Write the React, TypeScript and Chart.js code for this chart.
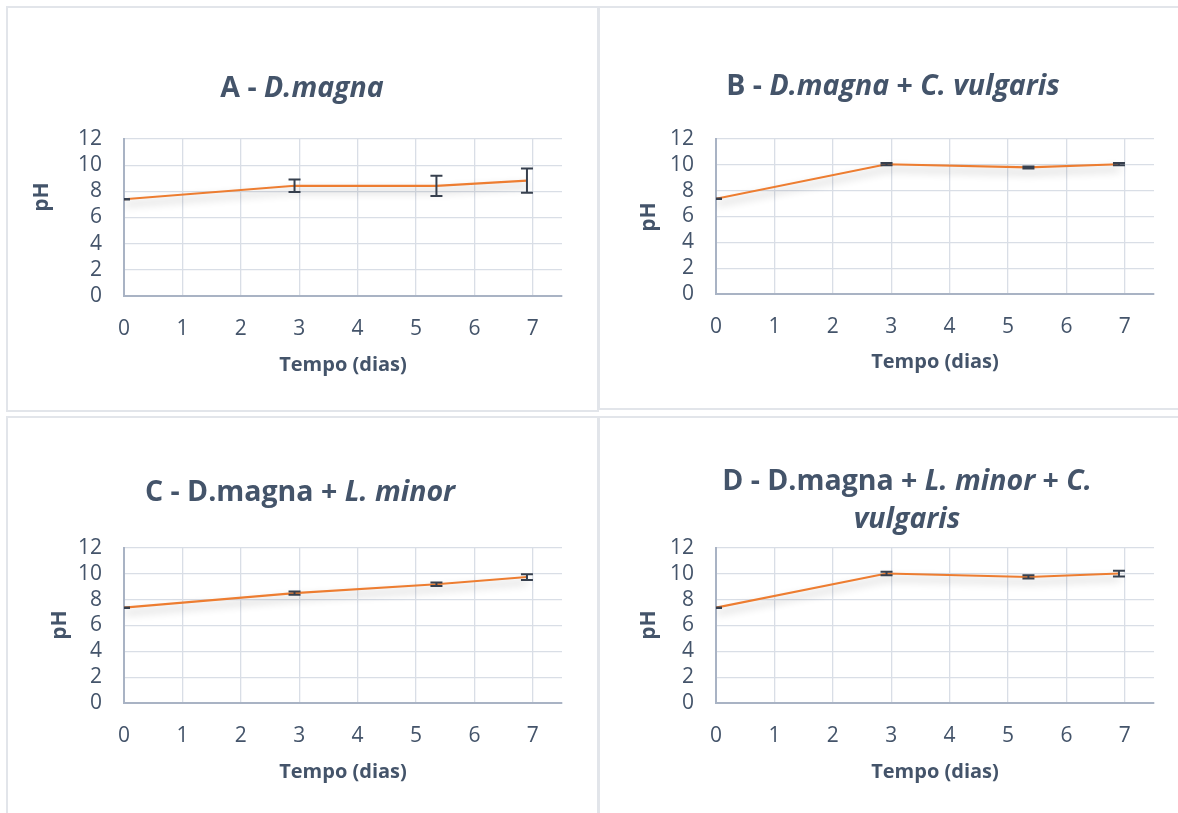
import React, { useEffect, useRef } from "react";
import { Chart, registerables } from "chart.js";

Chart.register(...registerables);

// Sampling days (x) shared by all four experiments
const dias = [0, 2.92, 5.35, 6.9];

// Mean pH and error (±) for each experiment
const phA = [7.39, 8.43, 8.42, 8.82];
const errA = [0.02, 0.48, 0.78, 0.93];

const phB = [7.37, 10.05, 9.8, 10.05];
const errB = [0.02, 0.09, 0.08, 0.09];

const phC = [7.38, 8.51, 9.19, 9.75];
const errC = [0.02, 0.13, 0.13, 0.22];

const phD = [7.38, 10.03, 9.76, 10.02];
const errD = [0.02, 0.13, 0.13, 0.22];

// Axis ranges and labels
const xMin = 0;
const xMax = 7.5;
const xStep = 1;
const yMin = 0;
const yMax = 12;
const yStep = 2;
const xAxisTitle = "Tempo (dias)";
const yAxisTitle = "pH";

const FONT = "'Open Sans', 'Noto Sans', sans-serif";
const INK = "#44546A";
const LINE = "#ED7D31";
const ERR = "#37404E";
const GRID = "#D9DEE6";
const AXIS = "#A9B3C4";
const FRAME = "#E2E5EA";

type Seg = { text: string; italic?: boolean };
type Panel = {
  key: string;
  box: { left: number; top: number; width: number; height: number };
  plot: { left: number; top: number; right: number; bottom: number };
  title: Seg[][];
  titleX: number;
  titleY: number[];
  yTitle: { x: number; y: number };
  xTitle: { x: number; y: number };
  values: number[];
  errors: number[];
};

const panels: Panel[] = [
  {
    key: "A",
    box: { left: 6, top: 6, width: 593, height: 406 },
    plot: { left: 124, top: 139, right: 562, bottom: 296 },
    title: [[{ text: "A - " }, { text: "D.magna", italic: true }]],
    titleX: 302,
    titleY: [89],
    yTitle: { x: 42, y: 197 },
    xTitle: { x: 343, y: 365 },
    values: phA,
    errors: errA,
  },
  {
    key: "B",
    box: { left: 598, top: 6, width: 600, height: 404 },
    plot: { left: 716, top: 139, right: 1154, bottom: 294 },
    title: [
      [
        { text: "B - " },
        { text: "D.magna", italic: true },
        { text: " + " },
        { text: "C. vulgaris", italic: true },
      ],
    ],
    titleX: 893,
    titleY: [87],
    yTitle: { x: 649, y: 217 },
    xTitle: { x: 935, y: 362 },
    values: phB,
    errors: errB,
  },
  {
    key: "C",
    box: { left: 6, top: 416, width: 593, height: 420 },
    plot: { left: 124, top: 548, right: 562, bottom: 703 },
    title: [[{ text: "C - D.magna + " }, { text: "L. minor", italic: true }]],
    titleX: 300,
    titleY: [493],
    yTitle: { x: 60, y: 625 },
    xTitle: { x: 343, y: 772 },
    values: phC,
    errors: errC,
  },
  {
    key: "D",
    box: { left: 598, top: 416, width: 600, height: 420 },
    plot: { left: 716, top: 548, right: 1154, bottom: 703 },
    title: [
      [
        { text: "D - D.magna + " },
        { text: "L. minor", italic: true },
        { text: " + " },
        { text: "C.", italic: true },
      ],
      [{ text: "vulgaris", italic: true }],
    ],
    titleX: 907,
    titleY: [482, 520],
    yTitle: { x: 649, y: 625 },
    xTitle: { x: 935, y: 772 },
    values: phD,
    errors: errD,
  },
];

function segFont(seg: Seg, size: number) {
  return `${seg.italic ? "italic " : ""}bold ${size}px ${FONT}`;
}

function makeDecor(p: Panel, ox: number, oy: number) {
  return {
    id: "decor" + p.key,
    beforeDatasetDraw(chart: any) {
      const ctx = chart.ctx;
      ctx.save();
      ctx.shadowColor = "rgba(0,0,0,0.32)";
      ctx.shadowBlur = 8;
      ctx.shadowOffsetX = 1;
      ctx.shadowOffsetY = 5;
    },
    afterDatasetDraw(chart: any) {
      const ctx = chart.ctx;
      ctx.restore();
      const xs = chart.scales.x;
      const ys = chart.scales.y;
      const a = chart.chartArea;
      ctx.save();
      ctx.beginPath();
      ctx.rect(a.left, a.top, a.right - a.left, a.bottom - a.top);
      ctx.clip();
      ctx.strokeStyle = ERR;
      ctx.lineWidth = 2;
      dias.forEach((d, i) => {
        const x = xs.getPixelForValue(d);
        const y1 = ys.getPixelForValue(p.values[i] + p.errors[i]);
        const y2 = ys.getPixelForValue(p.values[i] - p.errors[i]);
        ctx.beginPath();
        ctx.moveTo(x, y1);
        ctx.lineTo(x, y2);
        ctx.moveTo(x - 6, y1);
        ctx.lineTo(x + 6, y1);
        ctx.moveTo(x - 6, y2);
        ctx.lineTo(x + 6, y2);
        ctx.stroke();
      });
      ctx.restore();
    },
    afterDraw(chart: any) {
      const ctx = chart.ctx;
      ctx.save();
      ctx.fillStyle = INK;
      ctx.textBaseline = "middle";
      // chart title (mixed upright / italic runs)
      const tSize = 28.5;
      p.title.forEach((line, li) => {
        let total = 0;
        line.forEach((s) => {
          ctx.font = segFont(s, tSize);
          total += ctx.measureText(s.text).width;
        });
        let x = p.titleX - ox - total / 2;
        const y = p.titleY[li] - oy;
        ctx.textAlign = "left";
        line.forEach((s) => {
          ctx.font = segFont(s, tSize);
          ctx.fillText(s.text, x, y);
          x += ctx.measureText(s.text).width;
        });
      });
      // axis titles
      ctx.font = `bold 20px ${FONT}`;
      ctx.textAlign = "center";
      ctx.fillText(xAxisTitle, p.xTitle.x - ox, p.xTitle.y - oy);
      ctx.save();
      ctx.translate(p.yTitle.x - ox, p.yTitle.y - oy);
      ctx.rotate(-Math.PI / 2);
      ctx.font = `bold 21px ${FONT}`;
      ctx.fillText(yAxisTitle, 0, 0);
      ctx.restore();
      ctx.restore();
    },
  };
}

function PanelChart({ p }: { p: Panel }) {
  const ref = useRef<HTMLCanvasElement | null>(null);
  const ox = p.box.left + 2;
  const oy = p.box.top + 2;
  const cw = p.box.width - 4;
  const ch = p.box.height - 4;

  useEffect(() => {
    if (!ref.current) return;
    const yWidth = p.plot.left - ox;
    const xHeight = oy + ch - p.plot.bottom;
    const chart = new Chart(ref.current, {
      type: "line",
      data: {
        datasets: [
          {
            data: dias.map((d, i) => ({ x: d, y: p.values[i] })),
            borderColor: LINE,
            backgroundColor: LINE,
            borderWidth: 2.1,
            pointRadius: 0,
            pointHoverRadius: 0,
            tension: 0,
            fill: false,
          },
        ],
      },
      options: {
        responsive: false,
        animation: false,
        events: [],
        layout: {
          padding: {
            left: 0,
            bottom: 0,
            top: p.plot.top - oy,
            right: ox + cw - p.plot.right,
          },
        },
        plugins: {
          legend: { display: false },
          tooltip: { enabled: false },
          title: { display: false },
        },
        scales: {
          x: {
            type: "linear",
            min: xMin,
            max: xMax,
            grid: { color: GRID, lineWidth: 1.3, drawTicks: false },
            border: { color: AXIS, width: 2 },
            ticks: {
              stepSize: xStep,
              includeBounds: false,
              autoSkip: false,
              padding: 20,
              color: INK,
              font: { family: FONT, size: 21 },
              maxRotation: 0,
            },
            afterFit(scale: any) {
              scale.height = xHeight;
            },
          },
          y: {
            type: "linear",
            min: yMin,
            max: yMax,
            grid: { color: GRID, lineWidth: 1.3, drawTicks: false },
            border: { color: AXIS, width: 2 },
            ticks: {
              stepSize: yStep,
              autoSkip: false,
              padding: 22,
              color: INK,
              font: { family: FONT, size: 21 },
            },
            afterFit(scale: any) {
              scale.width = yWidth;
            },
          },
        },
      },
      plugins: [makeDecor(p, ox, oy)],
    } as any);
    return () => chart.destroy();
  }, []);

  return (
    <>
      <div
        style={{
          position: "absolute",
          left: p.box.left,
          top: p.box.top,
          width: p.box.width,
          height: p.box.height,
          border: `2px solid ${FRAME}`,
          boxSizing: "border-box",
        }}
      />
      <canvas
        ref={ref}
        width={cw}
        height={ch}
        style={{ position: "absolute", left: ox, top: oy, display: "block" }}
      />
    </>
  );
}

export default function App() {
  return (
    <div
      style={{
        position: "absolute",
        left: 0,
        top: 0,
        width: 1178,
        height: 813,
        overflow: "hidden",
        background: "#ffffff",
      }}
    >
      {panels.map((p) => (
        <PanelChart key={p.key} p={p} />
      ))}
    </div>
  );
}
